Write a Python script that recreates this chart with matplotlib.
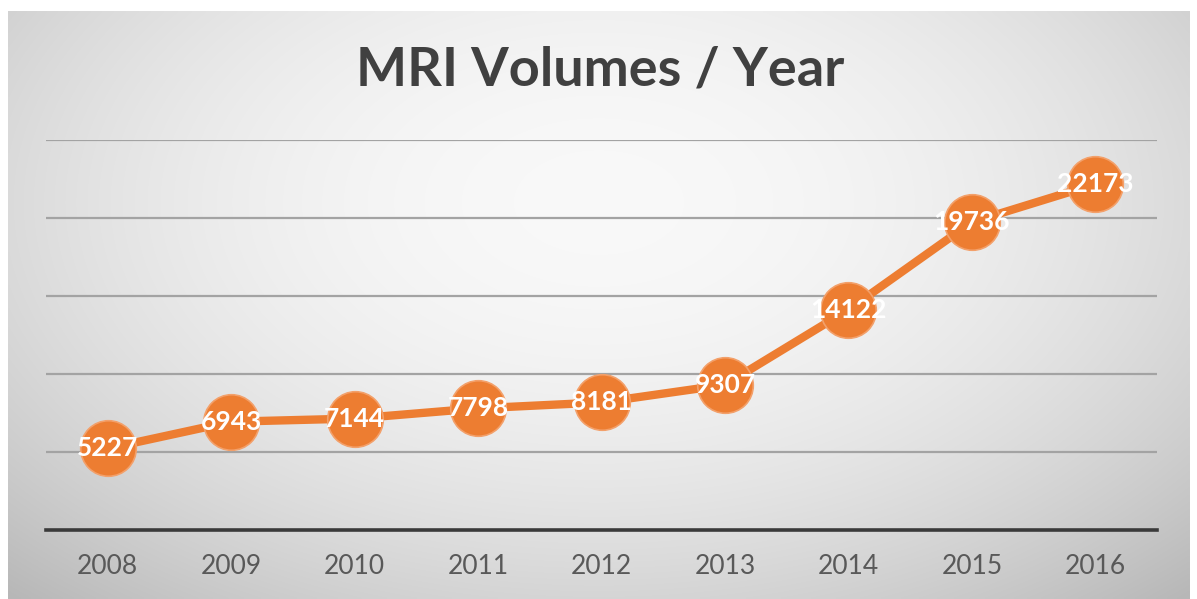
import numpy as np
import matplotlib.pyplot as plt

years = ["2008", "2009", "2010", "2011", "2012", "2013", "2014", "2015", "2016"]
volumes = [5227, 6943, 7144, 7798, 8181, 9307, 14122, 19736, 22173]

W, H = 1197, 599
fig = plt.figure(figsize=(W / 100, H / 100), dpi=100)
fig.patch.set_facecolor("white")

# soft grey radial backdrop behind the whole chart frame
bg = fig.add_axes([8 / W, 0, (1190 - 8) / W, (H - 11) / H])
gx, gy = np.meshgrid(np.linspace(-1, 1, 400), np.linspace(-1, 1, 200))
r = np.sqrt((gx / 1.05) ** 2 + ((gy + 0.35) / 1.3) ** 2)
shade = 0.975 - 0.13 * np.clip(r, 0, 1.4) ** 2
bg.imshow(np.dstack([shade] * 3), aspect="auto", extent=[0, 1, 0, 1],
          interpolation="bilinear")
bg.set_axis_off()

ax = fig.add_axes([46 / W, (H - 530) / H, (1157 - 46) / W, (530 - 140) / H])
ax.patch.set_alpha(0)
x = np.arange(len(years))
ax.set_xlim(-0.5, len(years) - 0.5)
ax.set_ylim(0, 25000)
ax.set_yticks(np.arange(5000, 25001, 5000))
ax.yaxis.grid(True, color="#a3a3a3", linewidth=1.6)
ax.set_axisbelow(True)
for s in ["top", "right", "left"]:
    ax.spines[s].set_visible(False)
ax.spines["bottom"].set_color("#3a3a3a")
ax.spines["bottom"].set_linewidth(2.6)
ax.tick_params(axis="y", left=False, labelleft=False)
ax.tick_params(axis="x", bottom=False, pad=14, labelsize=19, labelcolor="#595959")
ax.set_xticks(x)
ax.set_xticklabels(years, fontfamily="Lato")

ax.plot(x, volumes, color="#ed7d31", linewidth=6, marker="o", markersize=40,
        markerfacecolor="#ed7d31", markeredgecolor="#f3a06a", markeredgewidth=1.2,
        solid_capstyle="round", zorder=3)
for xi, v in zip(x, volumes):
    ax.text(xi, v, str(v), ha="center", va="center", color="white",
            fontsize=19, fontweight="bold", fontfamily="Lato", zorder=4)

fig.text(600 / W, 1 - 70 / H, "MRI Volumes / Year", ha="center", va="center",
         fontsize=39, fontweight="bold", color="#404040", fontfamily="Lato")

fig.savefig("out.png", dpi=100)
